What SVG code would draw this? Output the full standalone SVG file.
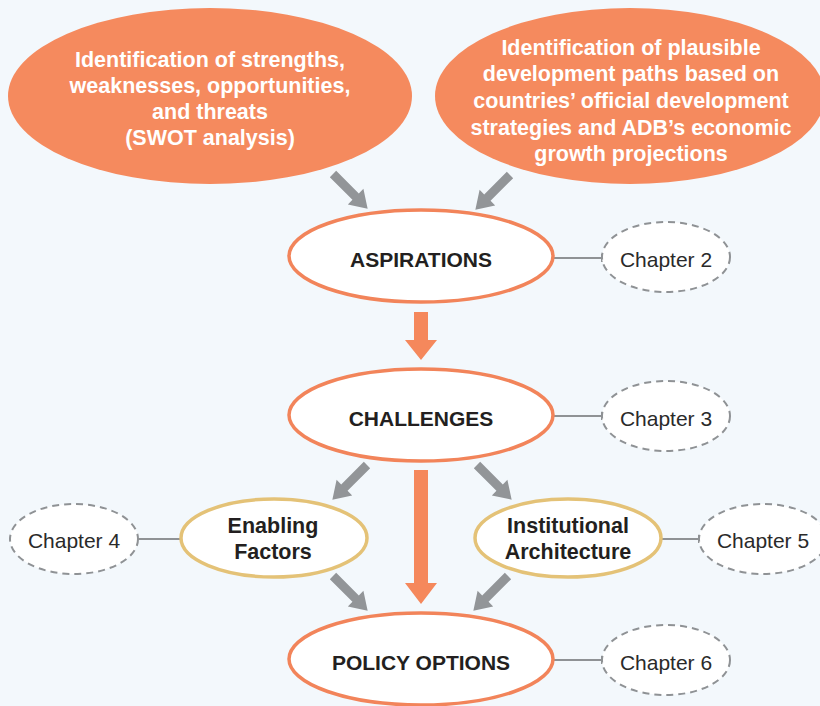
<svg xmlns="http://www.w3.org/2000/svg" xmlns:xlink="http://www.w3.org/1999/xlink" width="820" height="706" viewBox="0 0 820 706">
<style>
.top{fill:#F58A5E}
.main{fill:#fff;stroke:#F2845A;stroke-width:3.5}
.sub{fill:#fff;stroke:#E4C277;stroke-width:3.5}
.chap{fill:#fff;stroke:#8F9295;stroke-width:2;stroke-dasharray:7 5}
.wt{font-family:"Liberation Sans",Arial,sans-serif;font-weight:bold;font-size:21.5px;fill:#fff;text-anchor:middle}
.bt{font-family:"Liberation Sans",Arial,sans-serif;font-weight:bold;font-size:21px;fill:#231F20;text-anchor:middle}
.st{font-family:"Liberation Sans",Arial,sans-serif;font-weight:bold;font-size:21.5px;fill:#231F20;text-anchor:middle}
.ct{font-family:"Liberation Sans",Arial,sans-serif;font-size:21px;fill:#2a2a2a;text-anchor:middle}
.ln{stroke:#8F9295;stroke-width:2;fill:none}
.ga{fill:#929598}
.oa{fill:#F5885C}
</style>
<defs>
<path id="ga" d="M0,-4.5 L32,-4.5 L32,-11 L49,0 L32,11 L32,4.5 L0,4.5 Z"/>
</defs>
<rect width="820" height="706" fill="#F3F8FC"/>

<g id="connectors">
<use xlink:href="#ga" class="ga" transform="translate(333,174) rotate(45)"/>
<use xlink:href="#ga" class="ga" transform="translate(510,175) rotate(135)"/>
<use xlink:href="#ga" class="ga" transform="translate(367,465) rotate(135)"/>
<use xlink:href="#ga" class="ga" transform="translate(477,465) rotate(45)"/>
<use xlink:href="#ga" class="ga" transform="translate(333,576) rotate(45)"/>
<use xlink:href="#ga" class="ga" transform="translate(508,576) rotate(135)"/>
<polygon class="oa" points="414,312 428,312 428,340 437,340 421,360 405,340 414,340"/>
<polygon class="oa" points="414,470 428,470 428,583 437,583 421,604 405,583 414,583"/>
<path class="ln" d="M553,258 H602 M602,254 V262"/>
<path class="ln" d="M553,416 H602 M602,412 V420"/>
<path class="ln" d="M138,539 H180"/>
<path class="ln" d="M662,539 H699 M699,535 V543"/>
<path class="ln" d="M553,660 H602 M602,656 V664"/>
</g>

<g id="swot">
<ellipse class="top" cx="210" cy="96" rx="202" ry="88"/>
<text class="wt" x="210" y="67">Identification of strengths,</text>
<text class="wt" x="210" y="93">weaknesses, opportunities,</text>
<text class="wt" x="210" y="119">and threats</text>
<text class="wt" x="210" y="145">(SWOT analysis)</text>
</g>

<g id="paths">
<ellipse class="top" cx="630" cy="96" rx="195" ry="88"/>
<text class="wt" x="631" y="55">Identification of plausible</text>
<text class="wt" x="631" y="81">development paths based on</text>
<text class="wt" x="631" y="108">countries’ official development</text>
<text class="wt" x="631" y="135">strategies and ADB’s economic</text>
<text class="wt" x="631" y="161">growth projections</text>
</g>

<g id="aspirations">
<ellipse class="main" cx="421" cy="256" rx="132" ry="46"/>
<text class="bt" x="421" y="267">ASPIRATIONS</text>
</g>
<g id="chapter2">
<ellipse class="chap" cx="666" cy="257" rx="64" ry="35"/>
<text class="ct" x="666" y="267">Chapter 2</text>
</g>

<g id="challenges">
<ellipse class="main" cx="421" cy="415" rx="132" ry="46"/>
<text class="bt" x="421" y="426">CHALLENGES</text>
</g>
<g id="chapter3">
<ellipse class="chap" cx="666" cy="416" rx="64" ry="35"/>
<text class="ct" x="666" y="426">Chapter 3</text>
</g>

<g id="enabling">
<ellipse class="sub" cx="274" cy="538" rx="93" ry="39"/>
<text class="st" x="273" y="533">Enabling</text>
<text class="st" x="273" y="559">Factors</text>
</g>
<g id="chapter4">
<ellipse class="chap" cx="74" cy="539" rx="64" ry="35"/>
<text class="ct" x="74" y="548">Chapter 4</text>
</g>

<g id="institutional">
<ellipse class="sub" cx="568" cy="538" rx="93" ry="39"/>
<text class="st" x="568" y="533">Institutional</text>
<text class="st" x="568" y="559">Architecture</text>
</g>
<g id="chapter5">
<ellipse class="chap" cx="763" cy="539" rx="64" ry="35"/>
<text class="ct" x="763" y="548">Chapter 5</text>
</g>

<g id="policy">
<ellipse class="main" cx="421" cy="659" rx="132" ry="46"/>
<text class="bt" x="421" y="670">POLICY OPTIONS</text>
</g>
<g id="chapter6">
<ellipse class="chap" cx="666" cy="660" rx="64" ry="35"/>
<text class="ct" x="666" y="670">Chapter 6</text>
</g>
</svg>
